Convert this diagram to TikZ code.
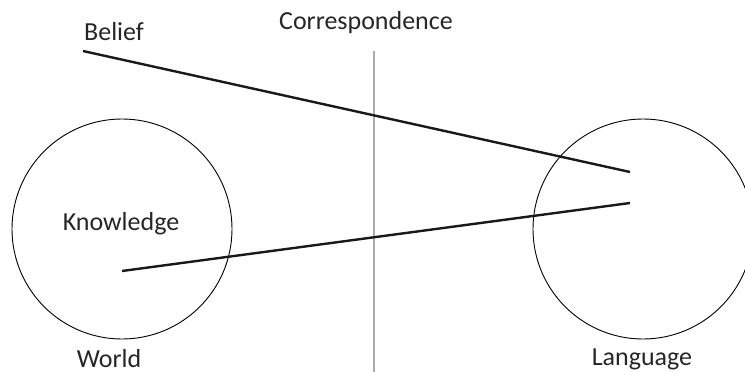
\documentclass[tikz,border=0pt]{standalone}
\usepackage{fontspec}
\setmainfont{Carlito}
\usetikzlibrary{positioning}
\tikzset{
  ring/.style    = {draw, circle, line width=0.9pt, minimum size=220pt, inner sep=0pt},
  lbl/.style     = {font=\fontsize{26}{30}\selectfont, inner sep=0pt, text=black!85},
  tie/.style     = {line width=2.4pt, black!90},
  divider/.style = {gray!65, line width=2pt}
}

\begin{document}
\begin{tikzpicture}[x=1pt,y=-1pt]
  \useasboundingbox (0,0) rectangle (745,372);
  \clip (0,0) rectangle (745,372);
  % the two spheres
  \node[ring] (world) at (122,229) {};
  \node[ring] (lang)  at (643,229) {};
  % divider between them
  \coordinate (divtop) at (374,51);
  \coordinate (divbot) at (374,372);
  \draw[divider] (divtop) -- (divbot);
  % texts
  \node[lbl,anchor=base west] (belief) at (84,41)  {Belief};
  \node[lbl,anchor=base]      (corr)   at (366,29) {Correspondence};
  \node[lbl,anchor=base]      (know)   at (121,230) {Knowledge};
  \node[lbl,anchor=base]      (wld)    at (109,367) {World};
  \node[lbl,anchor=base]      (lng)    at (642,365) {Language};
  % correspondence lines
  \coordinate (b0) at (83,51);
  \coordinate (b1) at (630,172);
  \coordinate (k0) at (122,271);
  \coordinate (k1) at (630,203);
  \draw[tie] (b0) -- (b1);
  \draw[tie] (k0) -- (k1);
\end{tikzpicture}
\end{document}
